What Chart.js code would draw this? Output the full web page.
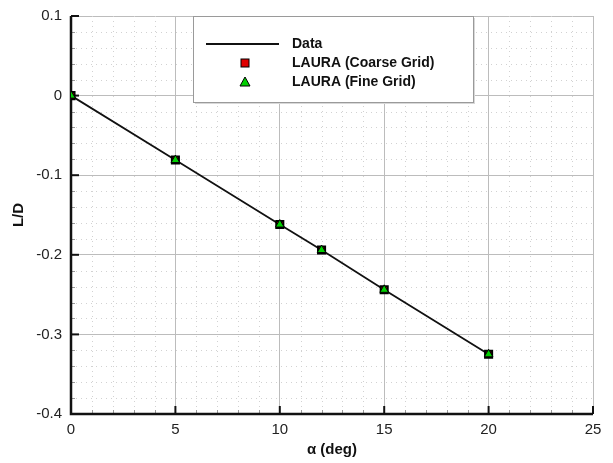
<!DOCTYPE html>
<html>
<head>
<meta charset="utf-8">
<script src="https://cdn.jsdelivr.net/npm/chart.js@4"></script>
<style>
  html, body { margin: 0; padding: 0; background: #fff; }
  #wrap { width: 613px; height: 463px; }
</style>
</head>
<body>
<div id="wrap"><canvas id="chart_liftToDrag"></canvas></div>
<script>
// angle of attack, deg
var alphaDeg = [0, 5, 10, 12, 15, 20];
// L/D values
var ldData = [0, -0.081, -0.162, -0.194, -0.244, -0.325];
var ldCoarse = [0, -0.081, -0.162, -0.194, -0.244, -0.325];
var ldFine = [0, -0.081, -0.162, -0.194, -0.244, -0.325];

var xTicks = [0, 5, 10, 15, 20, 25];
var yTicks = [-0.4, -0.3, -0.2, -0.1, 0, 0.1];

function toPoints(xs, ys) {
  return xs.map(function (x, i) { return {x: x, y: ys[i]}; });
}

var FONT = '"Liberation Sans", Arial, sans-serif';

var frameAndMinor = {
  id: 'frameAndMinor',
  beforeDatasetsDraw: function (chart) {
    var ctx = chart.ctx, a = chart.chartArea;
    var xs = chart.scales.x, ys = chart.scales.y;
    ctx.save();
    // minor dotted grid
    ctx.strokeStyle = '#d2d2d2';
    ctx.lineWidth = 1;
    ctx.setLineDash([1, 4]);
    for (var v = xs.min; v <= xs.max; v += 1) {
      if (v % 5 === 0) continue;
      var px = Math.round(xs.getPixelForValue(v)) + 0.5;
      ctx.beginPath(); ctx.moveTo(px, a.top); ctx.lineTo(px, a.bottom); ctx.stroke();
    }
    for (var k = 0; k <= 25; k++) {
      if (k % 5 === 0) continue;
      var py = Math.round(ys.getPixelForValue(-0.4 + k * 0.02)) + 0.5;
      ctx.beginPath(); ctx.moveTo(a.left, py); ctx.lineTo(a.right, py); ctx.stroke();
    }
    ctx.setLineDash([]);
    // minor ticks
    ctx.strokeStyle = '#999';
    for (var v2 = xs.min; v2 <= xs.max; v2 += 1) {
      if (v2 % 5 === 0) continue;
      var px2 = Math.round(xs.getPixelForValue(v2)) + 0.5;
      ctx.beginPath(); ctx.moveTo(px2, a.bottom); ctx.lineTo(px2, a.bottom - 4); ctx.stroke();
    }
    for (var k2 = 0; k2 <= 25; k2++) {
      if (k2 % 5 === 0) continue;
      var py2 = Math.round(ys.getPixelForValue(-0.4 + k2 * 0.02)) + 0.5;
      ctx.beginPath(); ctx.moveTo(a.left, py2); ctx.lineTo(a.left + 4, py2); ctx.stroke();
    }
    // major ticks
    ctx.strokeStyle = '#111';
    ctx.lineWidth = 2;
    xTicks.forEach(function (t) {
      var p = xs.getPixelForValue(t);
      ctx.beginPath(); ctx.moveTo(p, a.bottom); ctx.lineTo(p, a.bottom - 8); ctx.stroke();
    });
    yTicks.forEach(function (t) {
      var p = ys.getPixelForValue(t);
      ctx.beginPath(); ctx.moveTo(a.left, p); ctx.lineTo(a.left + 8, p); ctx.stroke();
    });
    // left and bottom axis lines
    ctx.lineWidth = 2.5;
    ctx.beginPath();
    ctx.moveTo(a.left, a.top);
    ctx.lineTo(a.left, a.bottom);
    ctx.lineTo(a.right, a.bottom);
    ctx.stroke();
    ctx.restore();
  }
};

var boxLegend = {
  id: 'boxLegend',
  afterDraw: function (chart) {
    var ctx = chart.ctx, a = chart.chartArea;
    var left = a.left + 122, top = a.top, w = 280, h = 86;
    ctx.save();
    ctx.fillStyle = '#d8d8d8';
    ctx.fillRect(left + 2, top + 2, w, h);
    ctx.fillStyle = '#fff';
    ctx.fillRect(left, top, w, h);
    ctx.strokeStyle = '#9a9a9a';
    ctx.lineWidth = 1;
    ctx.strokeRect(left + 0.5, top + 0.5, w, h);

    var ds = chart.data.datasets;
    var symX = left + 52, textX = left + 99;
    var rows = [top + 28, top + 47, top + 66];
    ctx.font = 'bold 14px ' + FONT;
    ctx.textBaseline = 'middle';
    ctx.fillStyle = '#111';
    // line entry
    ctx.strokeStyle = ds[0].borderColor;
    ctx.lineWidth = 2;
    ctx.beginPath(); ctx.moveTo(left + 13, rows[0]); ctx.lineTo(left + 86, rows[0]); ctx.stroke();
    ctx.fillText(ds[0].label, textX, rows[0]);
    // square entry
    ctx.fillStyle = ds[1].backgroundColor;
    ctx.strokeStyle = '#000';
    ctx.lineWidth = 1;
    ctx.fillRect(symX - 4, rows[1] - 4, 8, 8);
    ctx.strokeRect(symX - 4, rows[1] - 4, 8, 8);
    ctx.fillStyle = '#111';
    ctx.fillText(ds[1].label, textX, rows[1]);
    // triangle entry
    ctx.fillStyle = ds[2].backgroundColor;
    ctx.beginPath();
    ctx.moveTo(symX, rows[2] - 5);
    ctx.lineTo(symX + 5, rows[2] + 4);
    ctx.lineTo(symX - 5, rows[2] + 4);
    ctx.closePath();
    ctx.fill(); ctx.stroke();
    ctx.fillStyle = '#111';
    ctx.fillText(ds[2].label, textX, rows[2]);
    ctx.restore();
  }
};

var chart_liftToDrag = new Chart(document.getElementById('chart_liftToDrag'), {
  type: 'scatter',
  data: {
    datasets: [
      {
        label: 'Data',
        type: 'line',
        data: toPoints(alphaDeg, ldData),
        borderColor: '#111',
        borderWidth: 1.8,
        pointRadius: 0,
        fill: false,
        order: 3
      },
      {
        label: 'LAURA (Coarse Grid)',
        data: toPoints(alphaDeg, ldCoarse),
        pointStyle: 'rect',
        pointRadius: 5,
        backgroundColor: '#e00000',
        borderColor: '#000',
        borderWidth: 2,
        order: 2
      },
      {
        label: 'LAURA (Fine Grid)',
        data: toPoints(alphaDeg, ldFine),
        pointStyle: 'triangle',
        pointRadius: 5,
        backgroundColor: '#00d000',
        borderColor: '#000',
        borderWidth: 1,
        order: 1
      }
    ]
  },
  options: {
    animation: false,
    responsive: true,
    maintainAspectRatio: false,
    layout: { padding: { top: 16, right: 20, left: 0, bottom: 0 } },
    plugins: {
      legend: { display: false },
      tooltip: { enabled: false }
    },
    scales: {
      x: {
        type: 'linear',
        min: 0,
        max: 25,
        afterBuildTicks: function (s) { s.ticks = xTicks.map(function (v) { return {value: v}; }); },
        afterFit: function (s) { s.height = 49; },
        grid: { color: '#bcbcbc', lineWidth: 1, drawTicks: false },
        border: { display: false },
        ticks: { padding: 7, color: '#222', font: { family: FONT, size: 15 }, maxRotation: 0 },
        title: {
          display: true,
          text: 'α (deg)',
          color: '#111',
          font: { family: FONT, size: 15, weight: 'bold' },
          padding: { top: 0, bottom: 4 }
        }
      },
      y: {
        type: 'linear',
        min: -0.4,
        max: 0.1,
        afterBuildTicks: function (s) { s.ticks = yTicks.map(function (v) { return {value: v}; }); },
        afterFit: function (s) { s.width = 71; s.paddingTop = 8; s.paddingBottom = 8; },
        grid: { color: '#bcbcbc', lineWidth: 1, drawTicks: false },
        border: { display: false },
        ticks: {
          padding: 9,
          color: '#222',
          font: { family: FONT, size: 15 },
          callback: function (v) { return String(Number(v.toFixed(2))); }
        },
        title: {
          display: true,
          text: 'L/D',
          color: '#111',
          font: { family: FONT, size: 15, weight: 'bold' },
          padding: { top: 10, bottom: 0 }
        }
      }
    }
  },
  plugins: [frameAndMinor, boxLegend, {
    id: 'customPlugin',
    beforeDraw: function (chart) {
      var ctx = chart.canvas.getContext('2d');
      ctx.save();
      ctx.globalCompositeOperation = 'destination-over';
      ctx.fillStyle = 'white';
      ctx.fillRect(0, 0, chart.canvas.width, chart.canvas.height);
      ctx.restore();
    }
  }]
});
</script>
</body>
</html>
